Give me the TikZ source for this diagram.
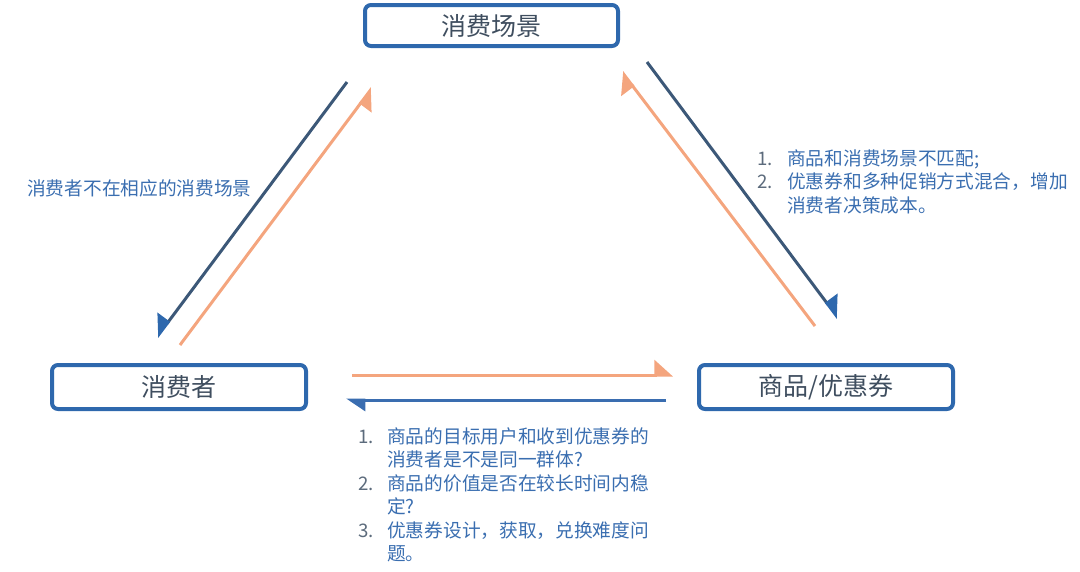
\documentclass[tikz,border=0pt]{standalone}
\usepackage{fontspec}
\setmainfont{Noto Sans CJK SC}
\usetikzlibrary{arrows.meta}
\definecolor{boxblue}{HTML}{2E68AD}
\definecolor{titletext}{HTML}{3F4E5F}
\definecolor{labelblue}{HTML}{3A6EB0}
\definecolor{numgrey}{HTML}{5C6B7C}
\definecolor{darkarrow}{HTML}{3C5878}
\definecolor{orangearrow}{HTML}{F4A57E}
\definecolor{bluearrow}{HTML}{3A6DB0}
\tikzset{
  titlebox/.style={draw=boxblue, line width=4pt, rounded corners=6pt, fill=white,
    text=titletext, font=\fontsize{25}{29}\selectfont, inner sep=0pt},
  darkline/.style={draw=darkarrow, line width=3pt,
    -{Triangle[right,length=18pt,width=28pt,fill=boxblue,color=boxblue]}},
  darklineL/.style={draw=darkarrow, line width=3pt,
    -{Triangle[left,length=18pt,width=28pt,fill=boxblue,color=boxblue]}},
  orangeR/.style={draw=orangearrow, line width=3pt,
    -{Triangle[right,length=18pt,width=28pt]}},
  orangeL/.style={draw=orangearrow, line width=3pt,
    -{Triangle[left,length=17pt,width=30pt]}},
  blueL/.style={draw=bluearrow, line width=3pt,
    -{Triangle[left,length=17pt,width=22pt]}},
  lbl/.style={text=labelblue, font=\fontsize{18.7}{23.5}\selectfont, inner sep=0pt}
}
\newcommand{\nm}[1]{\textcolor{numgrey}{#1}}
\begin{document}
\begin{tikzpicture}[x=1pt,y=-1pt]
\useasboundingbox (0,0) rectangle (1080,571);
% boxes
\node[titlebox, minimum width=253pt, minimum height=41pt] (scene) at (491.5,25.5) {消费场景};
\node[titlebox, minimum width=254pt, minimum height=44pt] (consumer) at (179,387) {消费者};
\node[titlebox, minimum width=254pt, minimum height=44pt] (goods) at (826,387) {商品/优惠券};
% arrow endpoints
\coordinate (a1s) at (347,82);  \coordinate (a1e) at (157,337);
\coordinate (a2s) at (180,345); \coordinate (a2e) at (372,88);
\coordinate (a3s) at (647,62);  \coordinate (a3e) at (838,318);
\coordinate (a4s) at (815,326); \coordinate (a4e) at (622,72);
\coordinate (a5s) at (352,375); \coordinate (a5e) at (673,375);
\coordinate (a6s) at (666,400); \coordinate (a6e) at (346,400);
\draw[darkline] (a1s) -- (a1e);
\draw[orangeR] (a2s) -- (a2e);
\draw[darklineL] (a3s) -- (a3e);
\draw[orangeL] (a4s) -- (a4e);
\draw[orangeL] (a5s) -- (a5e);
\draw[blueL] (a6s) -- (a6e);
% labels
\node[lbl, anchor=west] (l1) at (27,188) {消费者不在相应的消费场景};
\node[lbl, anchor=base west] (l2) at (757,165) {%
\begin{tabular}[t]{@{}p{30pt}@{}l@{}}
\nm{1.} & 商品和消费场景不匹配;\\
\nm{2.} & 优惠券和多种促销方式混合，增加\\
 & 消费者决策成本。
\end{tabular}};
\node[lbl, anchor=base west] (l3) at (358,443) {%
\begin{tabular}[t]{@{}p{29pt}@{}l@{}}
\nm{1.} & 商品的目标用户和收到优惠券的\\
 & 消费者是不是同一群体?\\
\nm{2.} & 商品的价值是否在较长时间内稳\\
 & 定?\\
\nm{3.} & 优惠券设计，获取，兑换难度问\\
 & 题。
\end{tabular}};
\end{tikzpicture}
\end{document}
